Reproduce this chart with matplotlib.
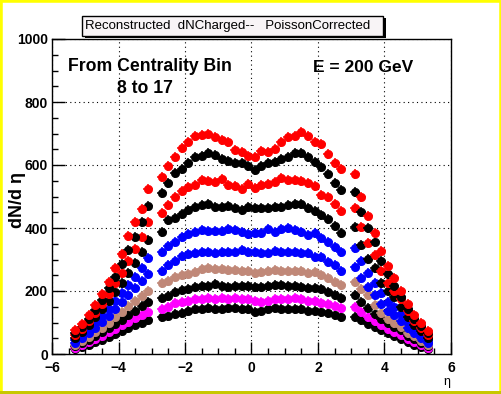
import matplotlib.pyplot as plt
from matplotlib.patches import Rectangle
from matplotlib.ticker import MultipleLocator

plt.rcParams['font.family'] = ['Liberation Sans', 'DejaVu Sans']

# eta bin centres (bins at |eta| ~ 2.9 are empty)
eta = [-5.3, -5.1, -4.9, -4.7, -4.5, -4.3, -4.1, -3.9, -3.7, -3.5, -3.3, -3.1,
       -2.7, -2.5, -2.3, -2.1, -1.9, -1.7, -1.5, -1.3, -1.1, -0.9, -0.7, -0.5, -0.3, -0.1,
       0.1, 0.3, 0.5, 0.7, 0.9, 1.1, 1.3, 1.5, 1.7, 1.9, 2.1, 2.3, 2.5, 2.7,
       3.1, 3.3, 3.5, 3.7, 3.9, 4.1, 4.3, 4.5, 4.7, 4.9, 5.1, 5.3]

# dN/deta, one list per centrality bin (top to bottom)
bin8 = [76, 96, 124, 156, 189, 230, 272, 316, 375, 418, 460, 524,
        562, 598, 626, 653, 674, 692, 695, 700, 690, 679, 672, 648, 640, 629,
        626, 645, 640, 651, 672, 690, 693, 706, 693, 672, 667, 635, 607, 586,
        571, 500, 438, 385, 328, 279, 240, 201, 159, 124, 99, 74]
bin9 = [66, 86, 112, 140, 172, 208, 245, 285, 330, 372, 418, 470,
        512, 543, 575, 586, 607, 624, 630, 637, 632, 618, 613, 607, 607, 597,
        584, 597, 605, 609, 618, 624, 637, 637, 624, 610, 595, 573, 542, 521,
        515, 452, 399, 357, 296, 254, 216, 182, 142, 112, 88, 66]
bin10 = [60, 80, 104, 130, 160, 192, 225, 258, 296, 334, 372, 418,
         447, 473, 498, 518, 530, 538, 552, 548, 546, 556, 537, 533, 524, 540,
         526, 537, 541, 547, 560, 552, 553, 549, 542, 533, 505, 497, 476, 455,
         462, 402, 351, 314, 264, 226, 201, 174, 135, 106, 82, 60]
bin11 = [52, 70, 92, 116, 142, 168, 196, 226, 258, 290, 325, 362,
         388, 426, 432, 444, 457, 468, 472, 475, 468, 468, 470, 465, 457, 466,
         462, 463, 465, 467, 467, 472, 476, 475, 465, 455, 440, 428, 406, 383,
         402, 346, 301, 272, 226, 201, 180, 150, 118, 92, 72, 52]
bin12 = [44, 60, 78, 98, 120, 144, 168, 193, 220, 246, 274, 304,
         325, 342, 355, 372, 382, 388, 393, 390, 391, 391, 397, 393, 388, 381,
         385, 383, 396, 388, 396, 399, 394, 388, 378, 383, 367, 357, 341, 325,
         335, 296, 256, 226, 193, 166, 150, 127, 97, 78, 60, 44]
bin13 = [36, 50, 66, 83, 102, 122, 143, 165, 188, 210, 232, 254,
         265, 283, 296, 311, 317, 322, 325, 325, 322, 325, 325, 325, 330, 325,
         325, 322, 322, 328, 325, 325, 325, 320, 322, 309, 309, 293, 283, 265,
         275, 240, 214, 187, 159, 137, 124, 106, 81, 66, 50, 36]
bin14 = [30, 42, 55, 69, 84, 100, 116, 133, 151, 168, 185, 201,
         226, 233, 245, 251, 254, 261, 269, 272, 269, 269, 267, 267, 263, 263,
         258, 261, 265, 267, 263, 265, 265, 265, 258, 261, 251, 240, 230, 219,
         228, 205, 187, 156, 131, 110, 97, 87, 68, 56, 42, 30]
bin15 = [25, 35, 46, 58, 70, 83, 96, 109, 123, 137, 151, 164,
         177, 184, 198, 203, 205, 212, 216, 216, 222, 216, 212, 216, 216, 216,
         212, 214, 216, 219, 219, 216, 216, 212, 209, 209, 205, 198, 187, 177,
         187, 165, 145, 128, 110, 97, 85, 75, 58, 47, 36, 25]
bin16 = [20, 28, 38, 48, 58, 69, 80, 91, 102, 113, 124, 134,
         142, 150, 161, 166, 169, 174, 174, 177, 174, 177, 174, 177, 174, 174,
         169, 166, 169, 174, 174, 174, 177, 174, 169, 169, 163, 159, 152, 145,
         150, 134, 118, 105, 92, 80, 70, 60, 47, 38, 28, 20]
bin17 = [15, 22, 30, 38, 46, 55, 64, 73, 82, 91, 100, 108,
         117, 121, 127, 131, 137, 142, 142, 145, 142, 142, 145, 145, 142, 142,
         134, 137, 142, 145, 142, 142, 142, 142, 137, 137, 134, 131, 124, 117,
         118, 107, 96, 86, 75, 66, 58, 49, 39, 30, 22, 15]

all_bins = [bin8, bin9, bin10, bin11, bin12, bin13, bin14, bin15, bin16, bin17]
colors = ['#ff0000', '#000000', '#ff0000', '#000000', '#0000ff',
          '#0000ff', '#c08878', '#000000', '#ff00ff', '#000000']

x_ticks = [-6, -4, -2, 0, 2, 4, 6]
x_labels = ['\u22126', '\u22124', '\u22122', '0', '2', '4', '6']
y_ticks = [0, 200, 400, 600, 800, 1000]

fig = plt.figure(figsize=(5.02, 3.94), dpi=100)
fig.patch.set_facecolor('white')

# ROOT canvas bevel
fig.add_artist(Rectangle((0, 0), 1, 1, transform=fig.transFigure, fill=False,
                         edgecolor='#ffff00', lw=4, zorder=0))
fig.add_artist(Rectangle((0, 0), 1, 0.007, transform=fig.transFigure,
                         facecolor='#c8c800', edgecolor='none', zorder=1))

ax = fig.add_axes([52 / 502, 1 - 354 / 394, 399 / 502, 315 / 394])

for vals, c in reversed(list(zip(all_bins, colors))):
    ax.plot(eta, vals, ls='none', marker='+', ms=6.8, mew=1.1, color=c, zorder=3)
    ax.plot(eta, vals, ls='none', marker='o', ms=6.0, mfc=c, mec=c, mew=0.5, zorder=3)

ax.set_xlim(-6, 6)
ax.set_ylim(0, 1000)
ax.set_xticks(x_ticks)
ax.set_xticklabels(x_labels, fontweight='bold')
ax.set_yticks(y_ticks)
ax.set_yticklabels([str(v) for v in y_ticks], fontweight='bold')
ax.xaxis.set_minor_locator(MultipleLocator(0.5))
ax.yaxis.set_minor_locator(MultipleLocator(50))
ax.tick_params(which='both', direction='in', top=False, right=False,
               labelsize=10, color='black')
ax.tick_params(which='major', length=9, width=1)
ax.tick_params(which='minor', length=4.5, width=1)
ax.tick_params(axis='y', pad=3)
ax.tick_params(axis='x', pad=5)
ax.grid(True, which='major', ls=(0, (1, 3)), color='black', lw=0.8)
for s in ax.spines.values():
    s.set_linewidth(1)

ax.set_ylabel('dN/d \u03b7', fontsize=13, fontweight='bold')
ax.yaxis.set_label_coords(-0.066, 0.49)
fig.text(447 / 502, 1 - 382 / 394, '\u03b7', fontsize=9, ha='center', va='center')

# in-plot texts
fig.text(68 / 502, 1 - 71 / 394, 'From Centrality Bin', fontsize=12.7, fontweight='bold')
fig.text(117 / 502, 1 - 93 / 394, '8 to 17', fontsize=12.7, fontweight='bold')
fig.text(313 / 502, 1 - 72 / 394, 'E = 200 GeV', fontsize=12.5, fontweight='bold')

# title box with shadow
fig.add_artist(Rectangle((85 / 502, 1 - 38 / 394), 301 / 502, 20 / 394,
                         transform=fig.transFigure, facecolor='black',
                         edgecolor='none', zorder=5))
fig.add_artist(Rectangle((82 / 502, 1 - 36 / 394), 301 / 502, 20 / 394,
                         transform=fig.transFigure, facecolor='#f8f4f6',
                         edgecolor='black', lw=1, zorder=6))
fig.text(228 / 502, 1 - 26 / 394, 'Reconstructed  dNCharged--   PoissonCorrected',
         fontsize=9.5, ha='center', va='center', zorder=7)

fig.savefig('out.png', dpi=100, facecolor='white')
